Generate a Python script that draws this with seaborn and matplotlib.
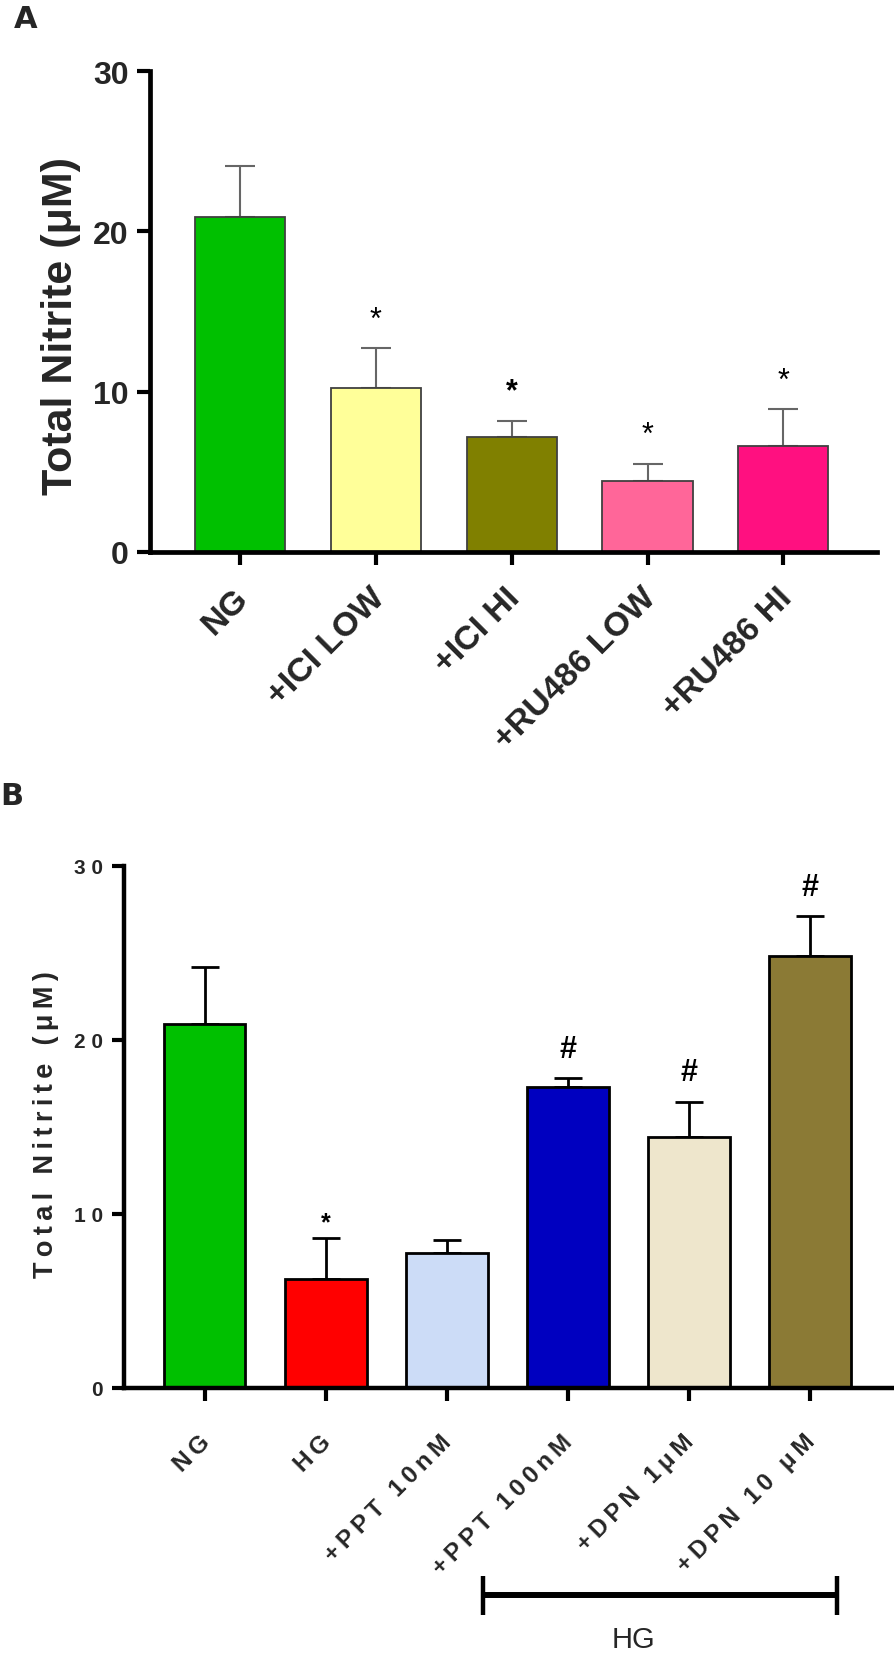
import matplotlib
matplotlib.use("Agg")
import matplotlib.pyplot as plt
import matplotlib.transforms as mtransforms
from matplotlib.lines import Line2D
import numpy as np
import seaborn as sns

# ---------------- data ----------------
a_categories = ["NG", "+ICI LOW", "+ICI HI", "+RU486 LOW", "+RU486 HI"]
a_means = [20.9, 10.2, 7.2, 4.4, 6.6]
a_sem = [3.2, 2.5, 1.0, 1.1, 2.3]
a_marks = ["", "*", "*", "*", "*"]
a_colors = ["#00C000", "#FFFF99", "#808000", "#FF6699", "#FF1080"]

b_categories = ["NG", "HG", "+PPT 10nM", "+PPT 100nM", "+DPN 1μM", "+DPN 10 μM"]
b_means = [20.9, 6.25, 7.75, 17.3, 14.4, 24.8]
b_sem = [3.3, 2.35, 0.75, 0.5, 2.05, 2.3]
b_marks = ["", "*", "", "#", "#", "#"]
b_colors = ["#00C000", "#FF0000", "#CCDCF7", "#0000C0", "#EEE6CC", "#8B7A35"]

y_ticks = [0, 10, 20, 30]
group_label = "HG"

# ---------------- style ----------------
sns.set_style("ticks")
FAM = ["Liberation Sans", "DejaVu Sans"]
plt.rcParams["font.family"] = FAM
TS = "\u2009"


def spaced(s, sep=TS):
    return sep.join(list(s))


W, H = 894, 1658
fig = plt.figure(figsize=(W / 100, H / 100), dpi=100)

# ================= Panel A =================
axA = fig.add_axes([150 / W, 1 - 553 / H, 727 / W, 481 / H])
sns.barplot(x=a_categories, y=a_means, hue=a_categories, palette=a_colors,
            legend=False, width=0.664, edgecolor="#404040", linewidth=1.3,
            saturation=1, errorbar=None, ax=axA, zorder=2)
xa = np.arange(len(a_categories))
axA.errorbar(xa, a_means, yerr=[np.zeros(len(a_means)), a_sem], fmt="none",
             ecolor="#666666", elinewidth=1.5, capsize=11, capthick=1.5, zorder=1)
axA.set_xlim(-0.664, len(a_categories) - 1 + 0.69)
axA.set_ylim(0, 30)
axA.set_yticks(y_ticks)
axA.set_yticklabels([str(t) for t in y_ticks], fontsize=23, fontweight="bold")
for s in ["top", "right"]:
    axA.spines[s].set_visible(False)
for s in ["left", "bottom"]:
    axA.spines[s].set_linewidth(3.4)
    axA.spines[s].set_color("black")
axA.tick_params(axis="both", length=9.5, width=3.0, color="black")
axA.tick_params(axis="y", pad=6)
axA.tick_params(axis="x", pad=12)
axA.set_xticks(xa)
axA.set_xticklabels(a_categories, fontsize=24.5, fontweight="bold", rotation=45,
                    ha="right", va="top", rotation_mode="anchor")
offA = mtransforms.ScaledTranslation(-7 / 100, 0, fig.dpi_scale_trans)
for lab in axA.get_xticklabels():
    lab.set_transform(lab.get_transform() + offA)
axA.set_xlabel("")
axA.set_ylabel("Total Nitrite (μM)", fontsize=31, fontweight="bold")
axA.yaxis.set_label_coords(-0.095, 0.472)
for i, m in enumerate(a_marks):
    if m:
        axA.text(i, a_means[i] + a_sem[i] + 1.8, m, ha="center", va="center",
                 fontsize=22, fontweight="bold" if i == 2 else "normal",
                 color="black")

fig.text(14 / W, 1 - 19 / H, "A", fontsize=22, fontweight="bold",
         family=["DejaVu Sans"], ha="left", va="center")

# ================= Panel B =================
axB = fig.add_axes([124 / W, 1 - 1389 / H, 770 / W, 522 / H])
sns.barplot(x=b_categories, y=b_means, hue=b_categories, palette=b_colors,
            legend=False, width=0.67, edgecolor="black", linewidth=2.0,
            saturation=1, errorbar=None, ax=axB, zorder=2)
xb = np.arange(len(b_categories))
axB.errorbar(xb, b_means, yerr=[np.zeros(len(b_means)), b_sem], fmt="none",
             ecolor="black", elinewidth=2.0, capsize=10, capthick=2.0, zorder=1)
axB.set_xlim(-0.669, len(b_categories) - 1 + 0.694)
axB.set_ylim(0, 30)
axB.set_yticks(y_ticks)
axB.set_yticklabels([spaced(str(t), " ") for t in y_ticks], fontsize=15,
                    fontweight="bold")
for s in ["top", "right"]:
    axB.spines[s].set_visible(False)
for s in ["left", "bottom"]:
    axB.spines[s].set_linewidth(3.2)
    axB.spines[s].set_color("black")
axB.tick_params(axis="both", length=9, width=3.0, color="black")
axB.tick_params(axis="y", pad=6)
axB.tick_params(axis="x", pad=21)
axB.set_xticks(xb)
axB.set_xticklabels([spaced(c) for c in b_categories], fontsize=17.5,
                    fontweight="bold", rotation=45,
                    ha="right", va="top", rotation_mode="anchor")
offB = mtransforms.ScaledTranslation(-7 / 100, 0, fig.dpi_scale_trans)
for lab in axB.get_xticklabels():
    lab.set_transform(lab.get_transform() + offB)
axB.set_xlabel("")
axB.set_ylabel(spaced("Total Nitrite (μM)"), fontsize=19.5, fontweight="bold")
axB.yaxis.set_label_coords(-0.085, 0.506)
for i, m in enumerate(b_marks):
    if m == "#":
        axB.text(i, b_means[i] + b_sem[i] + 1.7, m, ha="center", va="center",
                 fontsize=22, fontweight="bold", color="black")
    elif m == "*":
        axB.text(i, b_means[i] + b_sem[i] + 0.95, m, ha="center", va="center",
                 fontsize=18, fontweight="bold", color="black")

fig.text(0 / W, 1 - 797 / H, "B", fontsize=22, fontweight="bold",
         family=["DejaVu Sans"], ha="left", va="center")


# HG bracket
def fx(px):
    return px / W


def fy(py):
    return 1 - py / H


fig.add_artist(Line2D([fx(481), fx(839)], [fy(1596), fy(1596)], color="black",
                      linewidth=4.3, solid_capstyle="butt"))
fig.add_artist(Line2D([fx(483), fx(483)], [fy(1577), fy(1616)], color="black",
                      linewidth=3.2, solid_capstyle="butt"))
fig.add_artist(Line2D([fx(837), fx(837)], [fy(1577), fy(1616)], color="black",
                      linewidth=3.2, solid_capstyle="butt"))
fig.text(fx(633), fy(1640), group_label, fontsize=21,
         family=["Liberation Sans Narrow", "Liberation Sans", "DejaVu Sans"],
         ha="center", va="center")

fig.savefig("out.png", dpi=100)
